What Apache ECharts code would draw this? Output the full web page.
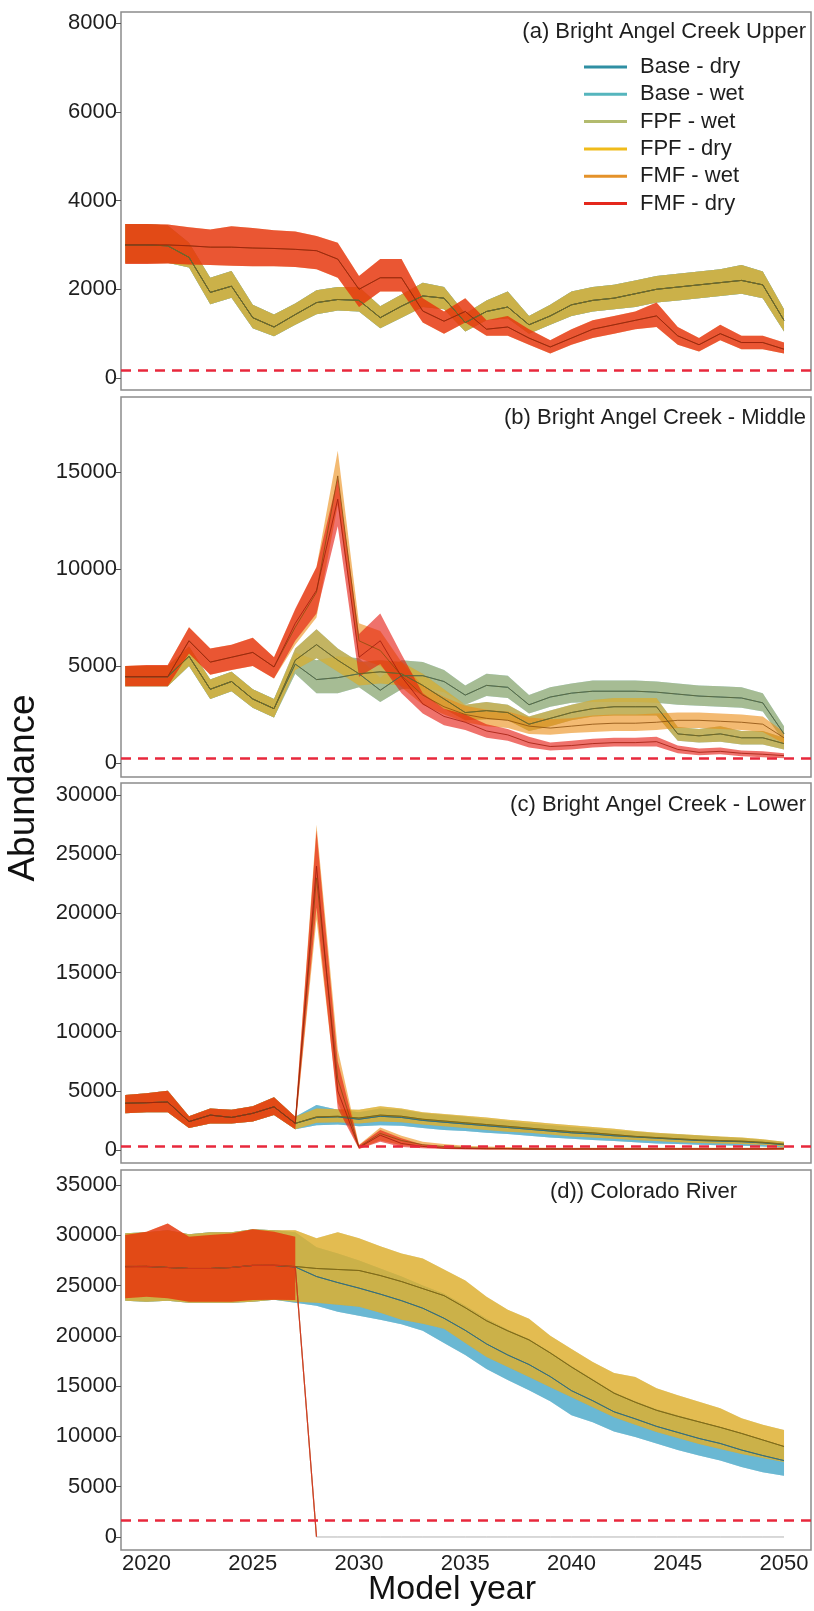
<!DOCTYPE html>
<html><head><meta charset="utf-8">
<script src="https://cdn.jsdelivr.net/npm/echarts@6/dist/echarts.min.js"></script>
<style>html,body{margin:0;padding:0;background:#fff}#c{width:814px;height:1611px}</style>
</head><body><div id="c"></div>
<script>
// ---------------- DATA ----------------
const years = [2019,2020,2021,2022,2023,2024,2025,2026,2027,2028,2029,2030,2031,2032,2033,2034,2035,2036,2037,2038,2039,2040,2041,2042,2043,2044,2045,2046,2047,2048,2049,2050];
const scenarios = ['Base - dry','Base - wet','FPF - wet','FPF - dry','FMF - wet','FMF - dry'];
const panelTitles = ['(a) Bright Angel Creek Upper','(b) Bright Angel Creek - Middle','(c) Bright Angel Creek - Lower','(d)) Colorado River'];
const thresholds = [180, 250, 280, 1650];
const yTicksA = [0,2000,4000,6000,8000];
const yTicksB = [0,5000,10000,15000];
const yTicksC = [0,5000,10000,15000,20000,25000,30000];
const yTicksD = [0,5000,10000,15000,20000,25000,30000,35000];
const xTicks = [2020,2025,2030,2035,2040,2045,2050];

// Panel (a) Bright Angel Creek Upper
const aK_mean = [3000,3000,2980,2720,1930,2070,1360,1150,1430,1700,1770,1750,1360,1620,1850,1800,1250,1500,1600,1200,1400,1650,1750,1800,1900,2000,2050,2100,2150,2200,2100,1300];
const aK_lo   = [2600,2600,2600,2490,1660,1810,1120,940,1200,1440,1520,1500,1120,1360,1600,1550,1050,1300,1350,1000,1200,1400,1500,1550,1600,1700,1750,1800,1850,1900,1800,1050];
const aK_hi   = [3470,3470,3440,3050,2260,2410,1650,1430,1680,1980,2050,2050,1620,1880,2150,2050,1450,1750,1950,1400,1650,1950,2050,2100,2200,2300,2350,2400,2450,2550,2400,1550];
const aR_mean = [3000,3000,3000,2980,2950,2950,2930,2920,2900,2870,2680,2000,2260,2260,1510,1280,1500,1100,1150,900,700,900,1100,1200,1300,1400,950,750,1000,800,800,650];
const aR_lo   = [2570,2570,2580,2560,2550,2530,2520,2520,2500,2450,2260,1600,1950,1950,1250,1000,1250,950,950,750,550,750,900,1000,1100,1150,750,600,850,650,650,550];
const aR_hi   = [3470,3470,3460,3400,3350,3420,3380,3330,3300,3200,3050,2300,2680,2680,1800,1500,1800,1300,1400,1100,850,1100,1300,1400,1500,1700,1150,900,1200,950,950,800];

// Panel (b) Bright Angel Creek - Middle
const bS1_mean = [4450,4450,4450,5500,3800,4200,3300,2800,5100,4300,4400,4600,3750,4500,4500,4200,3500,4000,3900,3000,3400,3600,3700,3700,3700,3650,3550,3450,3400,3350,3100,1500];
const bS1_lo   = [3950,3950,3950,5000,3300,3700,2850,2350,4600,3600,3600,3900,3150,3800,3900,3650,3000,3450,3350,2550,2900,3100,3150,3150,3150,3100,3000,2950,2900,2850,2650,1100];
const bS1_hi   = [5000,5000,5000,6000,4300,4700,3800,3300,5700,5300,5500,5400,4400,5300,5200,4800,4000,4600,4500,3500,3900,4100,4250,4250,4250,4200,4100,4000,3950,3900,3600,1900];
const bS2_mean = [4450,4450,4450,5500,3800,4200,3300,2800,5300,6100,5300,4600,4700,4600,4000,3300,2600,2700,2600,2000,2300,2600,2800,2900,2900,2900,1500,1400,1500,1300,1300,1000];
const bS2_lo   = [3950,3950,3950,5000,3300,3700,2850,2350,4800,5400,4700,4000,4100,4000,3500,2800,2200,2250,2200,1650,1900,2200,2400,2450,2450,2450,1150,1050,1100,950,950,700];
const bS2_hi   = [5000,5000,5000,6000,4300,4700,3800,3300,5900,6900,5900,5200,5300,5200,4600,3800,3000,3150,3000,2400,2700,3000,3250,3350,3350,3350,1850,1750,1900,1650,1650,1300];
const bFw_mean = [4450,4450,4450,6300,5200,5450,5700,4950,7000,8800,14800,6300,5800,4500,3500,2900,2500,2300,2200,1900,1800,1900,2000,2050,2050,2100,2200,2200,2150,2100,2000,1300];
const bFw_lo   = [3950,3950,3950,5650,4550,4800,5000,4350,6100,7500,13300,5400,5000,3900,3000,2500,2100,1900,1800,1500,1450,1550,1600,1650,1650,1700,1800,1800,1750,1700,1600,1000];
const bFw_hi   = [5000,5050,5050,7000,5900,6100,6450,5450,7900,10100,16100,7200,6800,5200,4000,3400,2950,2750,2650,2350,2250,2300,2450,2500,2500,2550,2600,2600,2550,2500,2400,1600];
const bFd_mean = [4450,4450,4450,6300,5200,5450,5700,4950,7200,8900,13600,5450,6300,4450,3050,2400,2100,1650,1450,1050,850,900,1000,1050,1050,1100,700,550,600,500,450,380];
const bFd_lo   = [3950,3950,3950,5650,4550,4800,5000,4350,6300,7700,12200,4450,5100,3600,2550,1950,1700,1300,1150,800,650,700,800,850,850,850,500,400,450,350,300,250];
const bFd_hi   = [5000,5050,5050,7000,5900,6100,6450,5450,7950,10100,14700,6650,7700,5600,3600,2800,2500,2000,1750,1350,1050,1150,1250,1300,1300,1350,900,750,800,650,600,500];

// Panel (c) Bright Angel Creek - Lower
const cB_mean = [3950,4000,4050,2400,2950,2750,3100,3650,2250,2750,2800,2600,2850,2750,2500,2350,2200,2050,1900,1750,1600,1450,1350,1200,1100,1000,900,800,750,700,600,450];
const cB_lo   = [3100,3200,3200,1850,2250,2250,2400,2950,1750,2100,2150,2000,2100,2050,1850,1700,1600,1450,1350,1200,1050,950,850,750,650,550,500,450,400,350,300,200];
const cB_hi   = [4650,4800,5000,2850,3500,3400,3700,4450,2800,3800,3400,3200,3500,3400,3100,2950,2800,2600,2450,2250,2100,1950,1800,1650,1550,1400,1300,1200,1100,1000,850,650];
const cP_mean = [3950,4000,4050,2400,2950,2750,3100,3650,2250,2800,2850,2700,2950,2850,2600,2450,2300,2150,2000,1850,1700,1550,1450,1300,1150,1050,950,850,800,750,650,500];
const cP_lo   = [3100,3200,3200,1850,2250,2250,2400,2950,1750,2300,2350,2250,2400,2350,2150,2000,1850,1700,1550,1450,1300,1150,1050,950,850,750,650,600,550,500,450,300];
const cP_hi   = [4650,4800,5000,2850,3500,3400,3700,4450,2800,3500,3450,3400,3700,3500,3200,3050,2900,2750,2550,2400,2250,2100,1950,1800,1600,1450,1350,1250,1150,1050,900,700];
const cFw_mean = [3950,4000,4050,2400,2950,2750,3100,3650,2250,23000,6000,250,1400,800,450,300,200,150,120,100,100,100,100,100,100,100,100,100,100,100,100,100];
const cFw_lo   = [3100,3200,3200,1850,2250,2250,2400,2950,1750,19500,4000,100,800,400,250,150,100,50,50,30,30,30,30,30,30,30,30,30,30,30,30,30];
const cFw_hi   = [4650,4800,5000,2850,3500,3400,3700,4450,2800,27500,8500,450,1900,1200,700,500,350,300,250,220,200,200,200,200,200,200,200,200,200,200,200,250];
const cFd_mean = [3950,4000,4050,2400,2950,2750,3100,3650,2250,24000,5000,200,1250,550,300,150,120,100,100,80,80,80,80,80,80,80,80,80,80,80,80,100];
const cFd_lo   = [3100,3200,3200,1850,2250,2250,2400,2950,1750,20500,3500,80,700,250,150,80,50,40,40,30,30,30,30,30,30,30,30,30,30,30,30,40];
const cFd_hi   = [4650,4800,5000,2850,3500,3400,3700,4450,2800,27000,7500,400,1700,1000,450,300,200,180,160,150,150,150,150,150,150,150,150,150,150,150,150,200];

// Panel (d) Colorado River
const dB_mean = [26900,26900,26800,26700,26700,26800,27000,27000,26850,25900,25300,24750,24150,23500,22750,21750,20550,19200,18100,17150,15950,14550,13550,12450,11750,11000,10400,9800,9300,8650,8100,7600];
const dB_lo   = [23500,23400,23500,23300,23300,23300,23400,23600,23300,23000,22400,22000,21600,21150,20500,19300,18100,16700,15600,14600,13500,12100,11400,10500,9950,9300,8650,8100,7600,6950,6450,6100];
const dB_hi   = [30200,30300,30500,30100,30300,30300,30600,30500,30300,28800,28200,27500,26700,25900,25000,24200,23000,21700,20600,19700,18400,17000,15700,14400,13500,12700,12100,11500,10950,10350,9700,9050];
const dP_mean = [26900,26900,26800,26700,26700,26800,27000,27000,26900,26700,26600,26500,26000,25400,24700,24000,22800,21500,20500,19600,18300,16900,15600,14300,13400,12600,12000,11450,10900,10300,9650,9000];
const dP_lo   = [23500,23400,23500,23300,23300,23300,23400,23600,23400,23300,23100,22900,22300,21600,21200,20700,19300,17900,16900,15900,14900,13900,12900,11900,11150,10450,9850,9250,8750,8250,7850,7450];
const dP_hi   = [30200,30300,30500,30100,30300,30300,30600,30500,30500,29700,30300,29700,28900,28200,27700,26600,25500,23900,22600,21700,20000,18700,17400,16300,15900,14800,14100,13450,12800,11800,11150,10650];
const dF_mean = [26870,26900,26800,26700,26700,26800,27000,27030,26870,0,0,0,0,0,0,0,0,0,0,0,0,0,0,0,0,0,0,0,0,0,0,0];
const dF_lo   = [23730,23890,23730,23390,23390,23390,23560,23600,23560,null,null,null,null,null,null,null,null,null,null,null,null,null,null,null,null,null,null,null,null,null,null,null];
const dF_hi   = [30030,30360,31180,29850,30030,30190,30590,30360,29850,null,null,null,null,null,null,null,null,null,null,null,null,null,null,null,null,null,null,null,null,null,null,null];

// scenario -> [mean, lo, hi] per panel (order = scenarios)
const panelSeries = [
  [[aK_mean,aK_lo,aK_hi],[aK_mean,aK_lo,aK_hi],[aK_mean,aK_lo,aK_hi],[aK_mean,aK_lo,aK_hi],[aR_mean,aR_lo,aR_hi],[aR_mean,aR_lo,aR_hi]],
  [[bS2_mean,bS2_lo,bS2_hi],[bS1_mean,bS1_lo,bS1_hi],[bS1_mean,bS1_lo,bS1_hi],[bS2_mean,bS2_lo,bS2_hi],[bFw_mean,bFw_lo,bFw_hi],[bFd_mean,bFd_lo,bFd_hi]],
  [[cB_mean,cB_lo,cB_hi],[cB_mean,cB_lo,cB_hi],[cP_mean,cP_lo,cP_hi],[cP_mean,cP_lo,cP_hi],[cFw_mean,cFw_lo,cFw_hi],[cFd_mean,cFd_lo,cFd_hi]],
  [[dB_mean,dB_lo,dB_hi],[dB_mean,dB_lo,dB_hi],[dP_mean,dP_lo,dP_hi],[dP_mean,dP_lo,dP_hi],[dF_mean,dF_lo,dF_hi],[dF_mean,dF_lo,dF_hi]]
];
const yTicks = [yTicksA, yTicksB, yTicksC, yTicksD];

// ---------------- STYLE ----------------
const FONT = '"Liberation Sans", Arial, sans-serif';
const legendColors = ['#2f8fa3','#55b5bd','#b3bb6e','#f0bb1a','#e4922a','#e4281c'];
const fillColors = [[40,140,165],[93,183,219],[172,172,92],[241,176,30],[235,140,20],[228,20,10]];
const lineColors = ['#1d5c6c','#2f6e86','#60662e','#86670c','#8a4e0c','#a01c0c'];
const FILL_ALPHA = 0.6;
const layout = [
  {top:12,  height:378, ymin:-270,  ymax:8250},
  {top:397, height:380, ymin:-722,  ymax:18866},
  {top:783, height:380, ymin:-1099, ymax:31020},
  {top:1170,height:380, ymin:-1293, ymax:36493}
];
const titlePos = [[806,32],[806,418],[806,805],[737,1192]];

function rgba(c,a){return 'rgba('+c[0]+','+c[1]+','+c[2]+','+a+')';}

function ribbon(p, s, lo, hi){
  const pts = years.map((y,i)=>[y, lo[i], hi[i]]);
  const col = rgba(fillColors[s], FILL_ALPHA);
  return {
    type:'custom', name:scenarios[s], xAxisIndex:p, yAxisIndex:p,
    data:pts, encode:{x:0, y:[1,2]}, clip:true, silent:true, z:2,
    renderItem:function(params, api){
      if (params.dataIndex !== 0) return null;
      const top=[], bot=[];
      pts.forEach(d=>{
        if (d[1]==null || d[2]==null) return;
        top.push(api.coord([d[0], d[2]]));
        bot.push(api.coord([d[0], d[1]]));
      });
      return {type:'polygon', shape:{points: top.concat(bot.reverse())}, style:{fill: col}};
    }
  };
}
function line(p, s, data, color, width){
  return {type:'line', name:scenarios[s], xAxisIndex:p, yAxisIndex:p, data, showSymbol:false, symbol:'none',
    silent:true, z:3, lineStyle:{width:width||1, color, opacity:0.8}, itemStyle:{color:legendColors[s]}};
}

const series = [];
panelSeries.forEach((ps, p)=>{
  ps.forEach((d, s)=>{ series.push(ribbon(p, s, d[1], d[2])); });
  ps.forEach((d, s)=>{
    const mean = d[0];
    const fz = mean.indexOf(0);
    if (fz < 0) {
      series.push(line(p, s, years.map((y,i)=>[y, mean[i]]), lineColors[s]));
    } else {
      series.push(line(p, s, years.slice(0, fz+1).map((y,i)=>[y, mean[i]]), s===5 ? '#e0301c' : lineColors[s], 1.2));
      series.push(line(p, s, years.slice(fz).map((y,i)=>[y, mean[i+fz]]), '#c4c4c4'));
    }
  });
  series.push({type:'line', name:'threshold', xAxisIndex:p, yAxisIndex:p, data:[], silent:true,
    markLine:{silent:true, symbol:'none', animation:false, label:{show:false},
      lineStyle:{type:[10,7], color:'#e8283c', width:2.5}, data:[{yAxis: thresholds[p]}]}});
});

const plain = v => String(v);
const option = {
  animation:false,
  backgroundColor:'#ffffff',
  textStyle:{fontFamily:FONT},
  grid: layout.map(l=>({left:121, width:690, top:l.top, height:l.height, show:true,
    borderColor:'#8c8c8c', borderWidth:1.5, backgroundColor:'transparent', containLabel:false})),
  xAxis: layout.map((l,i)=>({
    type:'value', gridIndex:i, min:2018.8, max:2051.27,
    axisLine:{show:false}, splitLine:{show:false},
    axisTick:{show:false},
    axisLabel: i===3 ? {show:true, fontSize:22, color:'#1e1e1e', margin:3, fontFamily:FONT, customValues:xTicks, formatter:plain} : {show:false}
  })),
  yAxis: layout.map((l,i)=>({
    type:'value', gridIndex:i, min:l.ymin, max:l.ymax,
    axisLine:{show:false}, splitLine:{show:false},
    axisTick:{show:true, length:5, lineStyle:{color:'#555', width:1}, customValues:yTicks[i]},
    axisLabel:{fontSize:22, color:'#1e1e1e', margin:4, fontFamily:FONT, customValues:yTicks[i], formatter:plain}
  })),
  legend:{
    orient:'vertical', left:579, top:51, itemWidth:43, itemHeight:3, itemGap:5.3,
    icon:'rect', selectedMode:false,
    textStyle:{fontSize:22, color:'#1e1e1e', fontFamily:FONT, padding:[0,0,0,8]},
    data: scenarios.map((n,i)=>({name:n, icon:'rect', itemStyle:{color:legendColors[i], borderWidth:0}}))
  },
  graphic: [
    {type:'text', x:24, y:788, rotation:Math.PI/2,
      style:{text:'Abundance', fontSize:37, fontFamily:FONT, fill:'#111', align:'center', verticalAlign:'middle', textAlign:'center', textVerticalAlign:'middle'}},
    {type:'text', x:452, y:1590,
      style:{text:'Model year', fontSize:34, fontFamily:FONT, fill:'#111', align:'center', verticalAlign:'middle', textAlign:'center', textVerticalAlign:'middle'}}
  ].concat(panelTitles.map((t,i)=>({type:'text', x:titlePos[i][0], y:titlePos[i][1],
      style:{text:t, fontSize:22, fontFamily:FONT, fill:'#1e1e1e', align:'right', verticalAlign:'middle', textAlign:'right', textVerticalAlign:'middle'}}))),
  series
};
const chart = echarts.init(document.getElementById('c'), null, {renderer:'canvas'});
chart.setOption(option);
</script></body></html>
